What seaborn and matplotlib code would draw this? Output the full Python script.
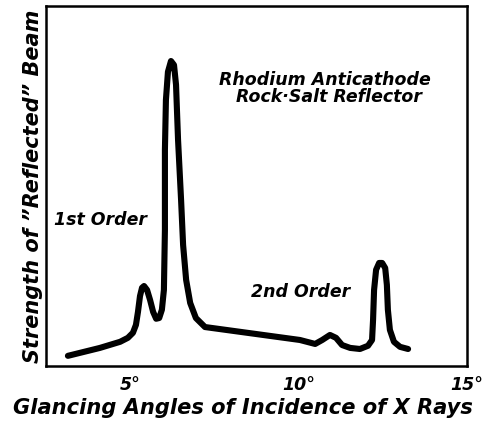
import matplotlib
matplotlib.use("Agg")
import matplotlib.pyplot as plt
import seaborn as sns
import pandas as pd

# Glancing angle (degrees) and reflected-beam strength (arbitrary units)
angle = [3.15, 4.10, 4.70, 4.93, 5.08, 5.17, 5.23, 5.29, 5.35, 5.41,
         5.50, 5.59, 5.68, 5.77, 5.86, 5.94, 6.00, 6.03, 6.03, 6.06,
         6.12, 6.21, 6.30, 6.36, 6.42, 6.51, 6.57, 6.66, 6.78, 6.95,
         7.22, 10.04, 10.49, 10.70, 10.93, 11.11, 11.29, 11.53, 11.82,
         12.06, 12.18, 12.21, 12.24, 12.30, 12.39, 12.48, 12.57, 12.62,
         12.65, 12.71, 12.83, 13.01, 13.25]
strength = [2.8, 5.0, 6.7, 7.8, 9.2, 11.4, 15.0, 19.4, 21.7, 22.2,
            21.1, 18.3, 15.0, 13.1, 13.3, 15.6, 21.1, 37.8, 60.0, 73.9,
            81.7, 84.7, 83.6, 78.1, 62.8, 46.1, 33.6, 23.9, 17.5, 13.3,
            10.8, 7.2, 6.1, 7.2, 8.6, 7.8, 5.8, 5.0, 4.7,
            5.6, 7.2, 12.8, 21.1, 26.7, 28.6, 28.6, 27.2, 22.5,
            15.6, 10.0, 6.7, 5.3, 4.7]

tick_pos = [2.5, 5, 7.5, 10, 12.5, 15]
tick_labels = ["", "5°", "", "10°", "", "15°"]

df = pd.DataFrame({"angle": angle, "strength": strength})

sns.set_style("white")
plt.rcParams["font.family"] = ["DejaVu Sans"]

fig = plt.figure(figsize=(4.87, 4.24), dpi=100)
ax = fig.add_axes([0.0945, 0.137, 0.8645, 0.849])

sns.lineplot(data=df, x="angle", y="strength", sort=False, estimator=None,
             color="black", linewidth=4.4, ax=ax,
             solid_joinstyle="round", solid_capstyle="round")

ax.set_xlim(2.5, 15)
ax.set_ylim(0, 100)
ax.set_xticks(tick_pos)
ax.set_xticklabels(tick_labels, fontsize=12.5, fontweight="bold", style="italic")
ax.set_yticks([])
ax.tick_params(axis="x", direction="out", length=5, width=1.8, pad=2,
               colors="black", labelcolor="black")
for s in ax.spines.values():
    s.set_visible(True)
    s.set_color("black")
    s.set_linewidth(1.8)

txt = dict(fontweight="bold", style="italic", color="black", ha="center", va="center")
ax.text(10.78, 79.4, "Rhodium Anticathode", fontsize=12.5, **txt)
ax.text(10.9, 74.7, "Rock·Salt Reflector", fontsize=12.5, **txt)
ax.text(4.13, 40.6, "1st Order", fontsize=12.5, **txt)
ax.text(10.07, 20.6, "2nd Order", fontsize=12.5, **txt)

ax.set_xlabel("Glancing Angles of Incidence of X Rays", fontsize=15.1,
              fontweight="bold", style="italic", color="black")
ax.xaxis.set_label_coords(0.468, -0.117)
ax.xaxis.label.set_va("center")
ax.set_ylabel("Strength of \u201dReflected\u201d Beam", fontsize=15,
              fontweight="bold", style="italic", color="black", labelpad=2)

fig.savefig("out.png", dpi=100)
